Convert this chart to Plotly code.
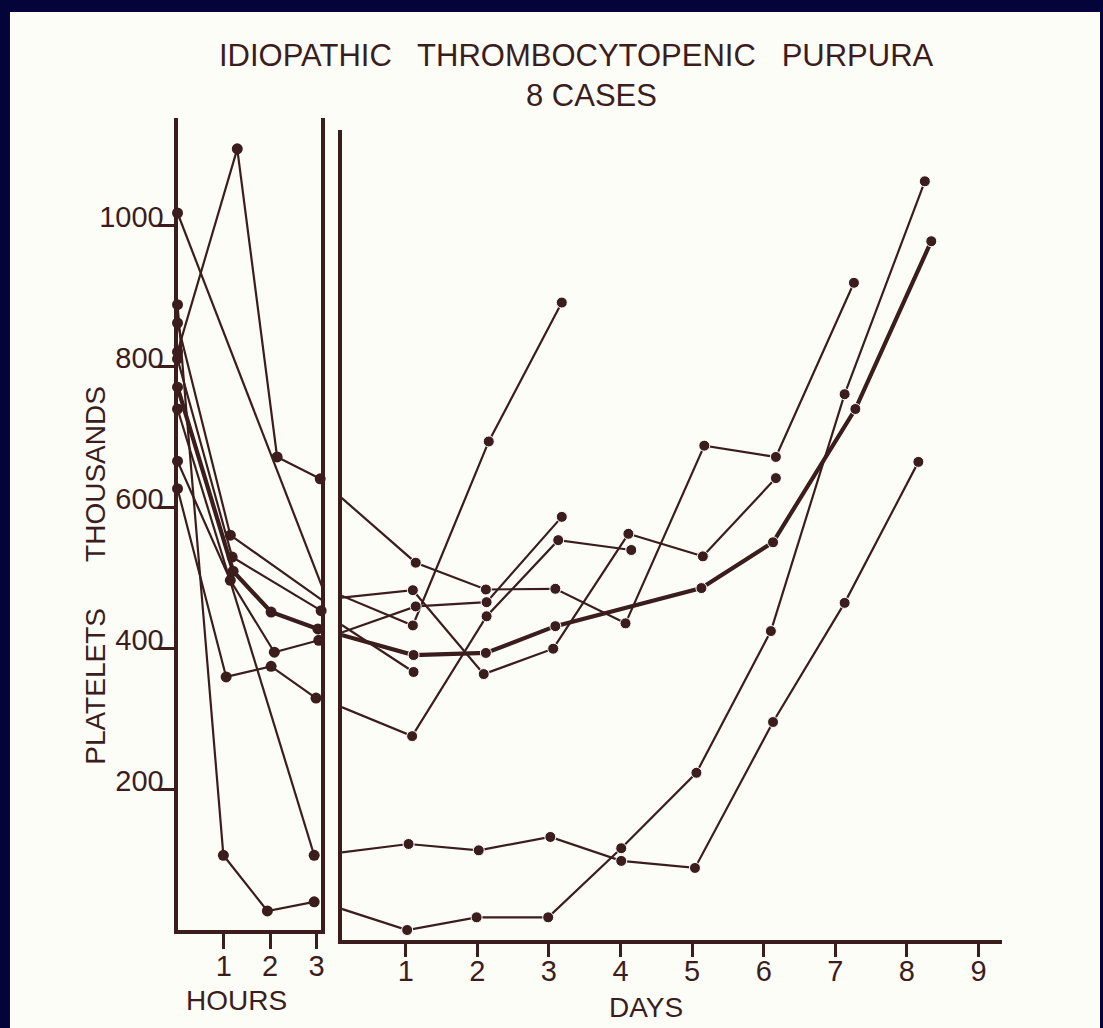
import plotly.graph_objects as go

W, H = 1103, 1028
INK = "#3b1d1d"
PAPER = "#fdfdf8"
NAVY = "#04043a"
FONT = "Liberation Sans Narrow, Liberation Sans, Arial, sans-serif"

# ---------------- data (platelets, thousands) ----------------
# hours after transfusion / values, then days / values, per case
A_h_t = [0, 1.29, 2.15, 3.08]; A_h_v = [820, 1108, 671, 640]
A_d_t = [1.14, 2.12, 3.09, 4.07, 5.17, 6.17, 7.26]; A_d_v = [521, 483, 484, 435, 687, 671, 918]

B_h_t = [0, 3.12]; B_h_v = [1017, 487]
B_d_t = [1.10, 2.16, 3.18]; B_d_v = [432, 693, 890]

C_h_t = [0, 1.14, 3.12]; C_h_v = [861, 560, 468]
C_d_t = [1.10, 2.09, 3.06, 4.11, 5.15, 6.17]; C_d_v = [482, 363, 399, 562, 530, 641]

D_h_t = [0, 1.14, 2.09, 3.05]; D_h_v = [665, 496, 394, 411]
D_d_t = [1.14, 2.13, 3.18]; D_d_v = [459, 465, 586]

E_h_t = [0, 1.18, 3.10]; E_h_v = [810, 529, 453]
E_d_t = [1.11]; E_d_v = [366]

F_h_t = [0, 1.05, 2.02, 2.99]; F_h_v = [626, 359, 374, 329]
F_d_t = [1.09, 2.13, 3.13, 4.15]; F_d_v = [275, 445, 553, 539]

G_h_t = [0, 2.95]; G_h_v = [739, 106]
G_d_t = [1.04, 2.02, 3.02, 4.01, 5.04, 6.13, 7.13, 8.16]; G_d_v = [122, 113, 132, 98, 88, 295, 464, 664]

H_h_t = [0, 0.99, 1.94, 2.95]; H_h_v = [887, 106, 27, 40]
H_d_t = [1.02, 1.99, 2.99, 4.01, 5.06, 6.10, 7.13, 8.25]; H_d_v = [0, 18, 18, 116, 223, 424, 760, 1062]

M_h_t = [0, 1.20, 2.02, 3.03]; M_h_v = [770, 509, 451, 427]
M_d_t = [1.11, 2.12, 3.09, 5.13, 6.13, 7.28, 8.34]; M_d_v = [390, 393, 431, 485, 550, 739, 977]

hour_ticks = [1, 2, 3]
day_ticks = [1, 2, 3, 4, 5, 6, 7, 8, 9]
value_ticks = [200, 400, 600, 800, 1000]
value_tick_text = ["200", "400", "600", "800", "1000"]

# position of the last hourly reading on the day scale (lies in the break)
LAST_HOUR_ON_DAY_AXIS = -0.2

cases = [
    (A_h_t, A_h_v, A_d_t, A_d_v, 2.2),
    (B_h_t, B_h_v, B_d_t, B_d_v, 2.2),
    (C_h_t, C_h_v, C_d_t, C_d_v, 2.2),
    (D_h_t, D_h_v, D_d_t, D_d_v, 2.2),
    (E_h_t, E_h_v, E_d_t, E_d_v, 2.2),
    (F_h_t, F_h_v, F_d_t, F_d_v, 2.2),
    (G_h_t, G_h_v, G_d_t, G_d_v, 2.2),
    (H_h_t, H_h_v, H_d_t, H_d_v, 2.2),
    (M_h_t, M_h_v, M_d_t, M_d_v, 4.2),
]

MS = 11
fig = go.Figure()
for ht, hv, dt, dv, lw in cases:
    fig.add_trace(go.Scatter(
        x=ht, y=hv, xaxis="x", yaxis="y", mode="lines+markers",
        line=dict(color=INK, width=lw),
        marker=dict(color=INK, size=MS, opacity=1), cliponaxis=False, showlegend=False,
        hoverinfo="skip"))
    fig.add_trace(go.Scatter(
        x=[LAST_HOUR_ON_DAY_AXIS] + dt, y=[hv[-1]] + dv, xaxis="x2", yaxis="y2",
        mode="lines+markers",
        line=dict(color=INK, width=lw),
        marker=dict(color=INK, size=[0] + [MS] * len(dt), opacity=1),
        cliponaxis=False, showlegend=False, hoverinfo="skip"))

def fx(px):
    return px / W

def fy(px):
    return (H - px) / H

PXV = 0.705  # pixels per thousand platelets
y0_px = 930

def note(text, x, y, size, angle=0):
    return dict(text=text, x=fx(x), y=fy(y), xref="paper", yref="paper", showarrow=False,
                xanchor="center", yanchor="middle", textangle=angle,
                font=dict(size=size, color=INK, family=FONT))

fig.update_layout(
    width=W, height=H, margin=dict(l=0, r=0, t=0, b=0),
    paper_bgcolor=NAVY, plot_bgcolor="rgba(0,0,0,0)",
    font=dict(family=FONT, color=INK),
    xaxis=dict(domain=[fx(178), fx(322)], range=[0, 3.1], anchor="y",
               showline=True, linecolor=INK, linewidth=4, showgrid=False, zeroline=False,
               tickvals=hour_ticks, ticks="outside", ticklen=15, tickwidth=3, tickcolor=INK,
               ticklabelstandoff=-8,
               tickfont=dict(size=29, color=INK, family=FONT)),
    yaxis=dict(domain=[fy(y0_px), fy(118)], range=[0, (y0_px - 118) / PXV], anchor="x",
               showline=True, linecolor=INK, linewidth=4, mirror=True, showgrid=False, zeroline=False,
               tickvals=value_ticks, ticktext=value_tick_text, ticks="outside", ticklen=16,
               tickwidth=3, tickcolor=INK, ticklabelshift=-8, ticklabelstandoff=-12,
               tickfont=dict(size=29, color=INK, family=FONT)),
    xaxis2=dict(domain=[fx(343), fx(1005)], range=[(343 - 335) / 71.8, (1005 - 335) / 71.8],
                anchor="y2", showline=True, linecolor=INK, linewidth=4, showgrid=False,
                zeroline=False, tickvals=day_ticks, ticks="outside", ticklen=13, tickwidth=3,
                tickcolor=INK, ticklabelstandoff=-11,
                tickfont=dict(size=29, color=INK, family=FONT)),
    yaxis2=dict(domain=[fy(940), fy(130)], range=[-(940 - y0_px) / PXV, (y0_px - 130) / PXV],
                anchor="x2", showline=True, linecolor=INK, linewidth=4, showgrid=False,
                zeroline=False, showticklabels=False, ticks=""),
    shapes=[dict(type="rect", xref="paper", yref="paper", x0=fx(10), x1=1, y0=0, y1=fy(12),
                 fillcolor=PAPER, line=dict(width=0), layer="below")],
    annotations=[
        note("IDIOPATHIC   THROMBOCYTOPENIC   PURPURA", 578, 55, 31),
        note("8 CASES", 593, 95, 31),
        note("PLATELETS      THOUSANDS", 95, 575, 28, -90),
        note("HOURS", 237, 1000, 28),
        note("DAYS", 648, 1007, 28),
    ],
)

fig.write_html("out.html")
